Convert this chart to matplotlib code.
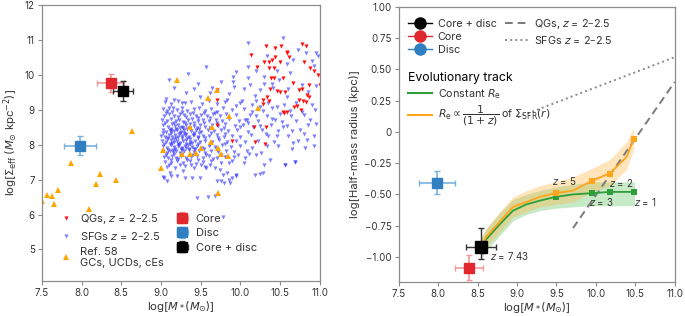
import numpy as np
import matplotlib
matplotlib.use('Agg')
import matplotlib.pyplot as plt
from matplotlib.lines import Line2D

plt.rcParams['font.family'] = ['Inter', 'DejaVu Sans']
plt.rcParams['mathtext.fontset'] = 'dejavusans'

# ---------------- left panel data ----------------
# QGs z = 2-2.5 (mass, sigma_eff)
qg_points = np.array([
    (10.32, 10.83), (10.44, 10.78), (10.51, 10.83), (10.78, 10.89), (10.82, 10.83),
    (10.13, 10.56), (10.59, 10.66), (10.61, 10.52), (10.43, 10.52), (10.40, 10.43),
    (10.30, 10.36), (10.36, 10.36), (10.50, 10.36), (10.80, 10.38), (10.21, 10.24),
    (10.36, 10.19), (10.42, 10.19), (10.88, 10.19), (10.93, 10.12), (10.39, 9.92),
    (10.42, 9.92), (10.54, 9.92), (10.66, 9.76), (10.86, 9.71), (10.46, 9.55),
    (10.50, 9.51), (10.56, 9.51), (10.74, 9.57), (10.78, 9.60), (10.37, 9.59),
    (10.34, 9.38), (10.84, 9.41), (10.86, 9.38), (10.29, 9.29), (10.74, 9.29),
    (10.79, 9.26), (10.82, 9.22), (10.71, 9.11), (10.68, 9.08), (10.76, 9.00),
    (10.53, 8.95), (10.55, 8.91), (10.59, 8.95), (10.17, 8.52), (10.32, 8.52),
    (10.97, 10.00), (9.71, 9.29), (9.90, 8.12), (10.18, 8.07), (10.31, 8.03),
    (10.36, 9.26), (10.29, 9.16), (9.71, 8.57), (9.71, 9.57), (10.58, 10.64),
    (11.00, 9.71),
])

# SFGs z = 2-2.5 (mass, sigma_eff)
sfg_points = np.array([
    # outer / upper cloud
    (9.57, 10.22), (9.34, 10.02), (9.10, 9.84), (9.47, 9.73), (9.41, 9.60),
    (9.17, 9.62), (9.94, 10.07), (9.91, 9.93), (9.64, 9.62), (9.31, 9.48),
    (9.62, 9.49), (9.49, 9.36), (9.06, 9.31), (9.16, 9.29), (9.83, 9.27),
    (9.95, 9.11), (9.10, 9.05), (9.26, 9.19), (10.09, 10.91), (10.53, 11.05),
    (10.95, 10.64), (10.83, 10.62), (10.10, 10.24), (10.33, 10.54), (10.46, 10.10),
    (10.92, 10.26), (10.95, 9.67), (10.77, 9.71), (10.66, 10.43), (9.91, 9.81),
    (10.12, 9.71), (10.25, 9.57), (10.41, 9.62), (10.58, 9.38), (10.94, 9.00),
    (10.93, 8.26), (10.64, 8.81), (10.46, 9.09), (10.25, 9.09), (9.99, 9.19),
    (10.06, 8.71), (10.20, 8.81), (10.54, 8.52), (10.75, 8.43), (10.46, 8.24),
    (10.66, 8.05), (10.92, 7.95), (10.18, 9.40), (10.05, 9.60), (10.48, 9.85),
    (10.62, 10.05), (10.70, 9.20), (10.85, 9.50), (10.30, 9.95), (9.85, 9.45),
    (9.75, 9.80), (10.58, 10.30), (10.90, 10.40), (10.97, 10.55), (10.20, 10.10),
    (10.72, 10.70), (10.40, 9.75), (10.88, 8.70), (10.78, 8.95), (10.15, 8.95),
    (10.00, 8.50), (10.10, 8.62), (10.25, 8.55), (10.32, 8.30), (10.52, 8.66),
    (10.65, 8.40), (10.80, 8.30), (10.95, 8.60), (10.40, 8.75), (10.20, 9.25),
    (10.55, 9.15), (10.90, 9.15), (10.60, 9.60), (10.30, 9.75), (10.10, 9.90),
    (9.92, 9.65),
    # lower right
    (10.84, 8.14), (10.81, 7.92), (10.65, 7.89), (10.47, 7.95), (10.69, 7.51),
    (10.56, 7.41), (10.37, 7.55), (10.30, 7.43), (10.24, 7.17), (10.18, 7.14),
    (9.94, 7.11), (10.04, 7.48), (10.11, 7.73), (10.19, 7.71), (10.06, 7.62),
    (9.97, 7.71), (10.29, 7.19), (10.56, 7.43), (10.69, 7.50),
    # lower left / outliers
    (9.45, 6.48), (9.59, 6.49), (9.68, 6.52), (9.76, 6.95), (9.87, 6.91),
    (9.95, 7.14), (9.78, 7.14), (9.03, 7.09), (9.07, 6.95), (9.04, 7.05),
    (9.13, 7.10), (9.20, 7.10), (9.30, 7.05), (9.39, 7.05), (9.49, 7.05),
    (9.74, 7.29), (9.83, 7.19), (9.79, 6.91), (9.86, 7.00), (9.89, 7.05),
    (9.70, 6.95), (9.57, 7.33), (9.86, 7.48), (9.28, 7.24), (9.11, 7.19),
    (9.78, 5.92),
    # dense core
    (9.05, 9.22), (9.12, 9.17), (9.22, 9.25), (9.30, 9.19), (9.38, 9.23),
    (9.52, 9.16), (9.60, 9.24), (9.71, 9.18), (9.80, 9.21), (10.02, 9.26),
    (10.15, 9.15), (10.35, 9.20),
    (9.02, 9.02), (9.08, 8.97), (9.15, 9.04), (9.20, 8.99), (9.27, 9.05),
    (9.33, 8.96), (9.41, 9.01), (9.48, 9.06), (9.55, 8.98), (9.63, 9.03),
    (9.70, 8.95), (9.78, 9.04), (9.90, 8.99), (10.05, 9.02), (10.28, 8.97),
    (10.40, 9.05), (10.62, 8.98),
    (9.04, 8.83), (9.10, 8.88), (9.17, 8.82), (9.24, 8.87), (9.29, 8.84),
    (9.36, 8.89), (9.44, 8.81), (9.50, 8.86), (9.58, 8.83), (9.66, 8.88),
    (9.74, 8.82), (9.82, 8.87), (9.95, 8.84), (10.12, 8.86), (10.33, 8.83),
    (10.50, 8.88), (10.80, 8.85),
    (9.01, 8.71), (9.07, 8.67), (9.13, 8.73), (9.19, 8.68), (9.23, 8.72),
    (9.28, 8.66), (9.34, 8.71), (9.39, 8.74), (9.46, 8.68), (9.53, 8.72),
    (9.61, 8.67), (9.69, 8.71), (9.77, 8.69), (9.86, 8.73), (9.98, 8.67),
    (10.08, 8.71), (10.22, 8.68), (10.44, 8.72), (10.70, 8.69),
    (9.03, 8.56), (9.09, 8.52), (9.14, 8.58), (9.18, 8.53), (9.22, 8.57),
    (9.27, 8.51), (9.31, 8.56), (9.36, 8.59), (9.42, 8.53), (9.49, 8.57),
    (9.56, 8.52), (9.64, 8.56), (9.72, 8.54), (9.81, 8.58), (9.93, 8.53),
    (10.03, 8.56), (10.16, 8.51), (10.38, 8.57), (10.58, 8.54), (10.85, 8.56),
    (9.02, 8.41), (9.06, 8.37), (9.11, 8.43), (9.16, 8.38), (9.20, 8.42),
    (9.25, 8.36), (9.29, 8.41), (9.33, 8.44), (9.38, 8.38), (9.44, 8.42),
    (9.51, 8.37), (9.59, 8.41), (9.67, 8.39), (9.75, 8.43), (9.84, 8.38),
    (9.96, 8.41), (10.10, 8.37), (10.27, 8.42), (10.47, 8.39),
    (9.00, 8.26), (9.05, 8.22), (9.10, 8.28), (9.14, 8.23), (9.18, 8.27),
    (9.22, 8.21), (9.26, 8.26), (9.30, 8.29), (9.35, 8.23), (9.40, 8.27),
    (9.46, 8.22), (9.53, 8.26), (9.61, 8.24), (9.70, 8.28), (9.79, 8.23),
    (9.90, 8.26), (10.00, 8.22), (10.13, 8.27), (10.35, 8.24), (10.60, 8.26),
    (9.01, 8.11), (9.06, 8.07), (9.12, 8.13), (9.16, 8.08), (9.20, 8.12),
    (9.24, 8.06), (9.28, 8.11), (9.32, 8.14), (9.37, 8.08), (9.43, 8.12),
    (9.49, 8.07), (9.56, 8.11), (9.64, 8.09), (9.73, 8.13), (9.83, 8.08),
    (9.94, 8.11), (10.06, 8.07), (10.22, 8.12), (10.42, 8.09), (10.72, 8.11),
    (9.03, 7.96), (9.08, 7.92), (9.13, 7.98), (9.17, 7.93), (9.21, 7.97),
    (9.26, 7.91), (9.30, 7.96), (9.34, 7.99), (9.39, 7.93), (9.45, 7.97),
    (9.52, 7.92), (9.60, 7.96), (9.68, 7.94), (9.77, 7.98), (9.88, 7.93),
    (10.00, 7.96), (10.15, 7.92), (10.33, 7.97),
    (9.02, 7.81), (9.07, 7.77), (9.11, 7.83), (9.15, 7.78), (9.19, 7.82),
    (9.24, 7.76), (9.29, 7.81), (9.35, 7.84), (9.41, 7.78), (9.48, 7.82),
    (9.55, 7.77), (9.63, 7.81), (9.72, 7.79), (9.82, 7.83), (9.92, 7.78),
    (10.08, 7.81), (10.26, 7.77),
    (9.04, 7.66), (9.09, 7.62), (9.14, 7.68), (9.19, 7.63), (9.25, 7.67),
    (9.31, 7.61), (9.38, 7.66), (9.45, 7.69), (9.53, 7.63), (9.61, 7.67),
    (9.70, 7.62), (9.80, 7.66), (9.92, 7.64),
    (9.05, 7.51), (9.12, 7.47), (9.20, 7.53), (9.28, 7.48), (9.36, 7.52),
    (9.44, 7.46), (9.53, 7.51), (9.63, 7.54), (9.75, 7.48), (9.90, 7.52),
    (9.08, 7.36), (9.18, 7.32), (9.30, 7.38), (9.42, 7.33), (9.55, 7.37),
    (9.68, 7.34),
    (9.19, 8.45), (9.23, 8.31), (9.27, 8.18), (9.31, 8.02), (9.35, 7.88),
    (9.21, 8.03), (9.25, 7.87), (9.29, 8.33), (9.33, 8.19), (9.37, 8.48),
    (9.41, 8.34), (9.17, 8.17), (9.13, 8.33), (9.39, 8.05), (9.43, 7.87),
    (9.47, 8.18), (9.15, 7.86), (9.11, 8.02), (9.45, 8.47), (9.09, 8.19),
    (9.06, 8.90), (9.14, 8.93), (9.21, 8.78), (9.26, 8.94), (9.32, 8.78),
    (9.40, 8.92), (9.47, 8.76), (9.54, 8.91), (9.62, 8.77), (9.68, 8.92),
    (9.05, 8.62), (9.12, 8.46), (9.17, 8.63), (9.24, 8.48), (9.30, 8.62),
    (9.35, 8.47), (9.41, 8.63), (9.48, 8.46), (9.54, 8.62), (9.62, 8.47),
    (9.70, 8.62), (9.79, 8.47),
    (9.03, 8.33), (9.08, 8.16), (9.13, 8.40), (9.19, 8.18), (9.24, 8.34),
    (9.28, 8.47), (9.32, 8.31), (9.36, 8.16), (9.42, 8.29), (9.48, 8.33),
    (9.55, 8.18), (9.63, 8.33), (9.72, 8.18), (9.81, 8.32),
    (9.04, 8.02), (9.09, 7.86), (9.14, 8.04), (9.18, 7.89), (9.23, 8.00),
    (9.27, 7.84), (9.32, 7.91), (9.36, 8.02), (9.41, 7.88), (9.47, 8.02),
    (9.54, 7.87), (9.62, 8.03), (9.70, 7.87), (9.80, 8.02),
    (9.06, 7.72), (9.12, 7.57), (9.17, 7.73), (9.22, 7.58), (9.27, 7.73),
    (9.33, 7.57), (9.40, 7.72), (9.47, 7.57), (9.57, 7.72), (9.66, 7.58),
    (9.76, 7.72),
    (9.10, 7.42), (9.24, 7.43), (9.38, 7.42), (9.50, 7.43), (9.62, 7.42),
])

# Ref. 58: GCs, UCDs, cEs
ref_mass = [9.20, 8.63, 9.70, 9.59, 10.22, 9.86, 9.36, 9.64, 9.63, 9.50, 9.72,
            9.02, 9.27, 9.36, 9.44, 9.75, 9.84, 9.00, 9.72, 7.87, 8.23, 8.18,
            8.43, 7.70, 7.57, 7.63, 7.66, 7.50, 8.09]
ref_sigma = [9.84, 8.40, 9.57, 9.33, 9.05, 8.83, 8.50, 8.50, 8.07, 7.92, 7.90,
             7.84, 7.73, 7.73, 7.76, 7.74, 7.69, 7.33, 6.62, 7.48, 7.16, 6.87,
             7.00, 6.71, 6.55, 6.52, 6.31, 6.40, 6.16]

# this work, left panel: (mass, sigma, xerr, yerr)
left_core = (8.37, 9.77, 0.17, 0.25)
left_disc = (7.98, 7.97, 0.20, 0.27)
left_total = (8.52, 9.54, 0.125, 0.28)

# ---------------- right panel data ----------------
right_disc = (7.99, -0.405, 0.23, 0.09)
right_core = (8.39, -1.085, 0.18, 0.10)
right_total = (8.54, -0.92, 0.19, (0.10, 0.15))

green_mass = [8.54, 8.61, 8.78, 8.95, 9.12, 9.29, 9.49, 9.71, 9.955, 10.18, 10.49]
green_r = [-0.92, -0.86, -0.74, -0.63, -0.58, -0.55, -0.52, -0.50, -0.49, -0.48, -0.48]
green_lo = [-1.02, -0.95, -0.83, -0.71, -0.66, -0.63, -0.61, -0.60, -0.59, -0.59, -0.59]
green_hi = [-0.85, -0.78, -0.65, -0.54, -0.50, -0.47, -0.44, -0.42, -0.40, -0.40, -0.40]
green_mark_mass = [9.49, 9.955, 10.18, 10.49]
green_mark_r = [-0.52, -0.49, -0.48, -0.48]

orange_mass = [8.54, 8.61, 8.78, 8.95, 9.12, 9.29, 9.49, 9.71, 9.955, 10.18, 10.39, 10.48]
orange_r = [-0.92, -0.84, -0.72, -0.60, -0.56, -0.52, -0.49, -0.47, -0.39, -0.33, -0.20, -0.056]
orange_lo = [-0.99, -0.92, -0.80, -0.68, -0.64, -0.60, -0.58, -0.56, -0.48, -0.43, -0.30, -0.14]
orange_hi = [-0.85, -0.77, -0.64, -0.52, -0.47, -0.43, -0.40, -0.36, -0.29, -0.22, -0.08, 0.04]
orange_mark_mass = [9.49, 9.955, 10.18, 10.48]
orange_mark_r = [-0.49, -0.39, -0.336, -0.056]

qg_line_mass = [9.71, 11.0]
qg_line_r = [-0.77, 0.40]
sfg_line_mass = [9.01, 11.0]
sfg_line_r = [0.118, 0.598]

z_labels = ['z = 5', 'z = 2', 'z = 3', 'z = 1', 'z = 7.43']
z_mass = [9.60, 10.32, 10.07, 10.62, 8.91]
z_r = [-0.39, -0.41, -0.56, -0.56, -0.99]

mass_ticks = [7.5, 8.0, 8.5, 9.0, 9.5, 10.0, 10.5, 11.0]
radius_ticks = [1.0, 0.75, 0.5, 0.25, 0.0, -0.25, -0.5, -0.75, -1.0]
radius_ticklabels = ['1.00', '0.75', '0.50', '0.25', '0', '\u22120.25', '\u22120.50',
                     '\u22120.75', '\u22121.00']

RED = '#e0282e'
BLUE = '#2f7fc1'
GREEN = '#2e9e3a'
ORANGE = '#ffa41b'
SPINE = '#8c8c8c'
TXT = '#333333'

fig = plt.figure(figsize=(6.85, 3.16), dpi=100)
ax1 = fig.add_axes([0.061, 0.111, 0.406, 0.873])
ax2 = fig.add_axes([0.582, 0.108, 0.403, 0.870])

for ax in (ax1, ax2):
    for s in ax.spines.values():
        s.set_color(SPINE)
        s.set_linewidth(0.9)
    ax.tick_params(direction='out', length=3, width=0.8, color=SPINE,
                   labelsize=7, labelcolor=TXT, pad=2)
    ax.set_xlim(7.5, 11.0)
    ax.set_xticks(mass_ticks)
    ax.set_xticklabels([f'{t:.1f}' for t in mass_ticks])
    ax.set_xlabel(r'log[$M_*$($M_{\odot}$)]', fontsize=8.2, color=TXT, labelpad=1)

# ---------------- left panel ----------------
ax1.set_ylim(4.1, 12)
ax1.set_yticks([5, 6, 7, 8, 9, 10, 11, 12])
ax1.set_ylabel(r'log[$\Sigma_{\rm eff}$ ($M_{\odot}$ kpc$^{-2}$)]', fontsize=8.2,
               color=TXT, labelpad=3)

h_sfg, = ax1.plot(sfg_points[:, 0], sfg_points[:, 1], 'v', color='#3030ff', ms=3,
                  mew=0, alpha=0.62, linestyle='none', label='SFGs $z$ = 2\u20132.5')
h_qg, = ax1.plot(qg_points[:, 0], qg_points[:, 1], 'v', color='#ff1010', ms=3,
                 mew=0, linestyle='none', label='QGs, $z$ = 2\u20132.5')
h_ref, = ax1.plot(ref_mass, ref_sigma, '^', color='#ffa500', ms=4, mew=0,
                  linestyle='none', label='Ref. 58\nGCs, UCDs, cEs')

h_lcore = ax1.errorbar(left_core[0], left_core[1], xerr=left_core[2], yerr=left_core[3],
                       fmt='s', color=RED, ms=7, ecolor='#f09a9c', elinewidth=1.2,
                       capsize=2, label='Core')
h_ldisc = ax1.errorbar(left_disc[0], left_disc[1], xerr=left_disc[2], yerr=left_disc[3],
                       fmt='s', color=BLUE, ms=7, ecolor='#7ab3e0', elinewidth=1.2,
                       capsize=2, label='Disc')
h_ltot = ax1.errorbar(left_total[0], left_total[1], xerr=left_total[2], yerr=left_total[3],
                      fmt='s', color='black', ms=7, ecolor='#333333', elinewidth=1.0,
                      capsize=2, label='Core + disc')

ax1.legend(handles=[h_qg, h_sfg, h_ref, h_lcore, h_ldisc, h_ltot], ncol=2,
           loc='lower left', bbox_to_anchor=(0.02, 0.01), frameon=False, fontsize=8,
           handlelength=1.6, handletextpad=0.4, columnspacing=0.9, labelspacing=0.4,
           labelcolor=TXT, markerscale=1.0)

# ---------------- right panel ----------------
ax2.set_ylim(-1.2, 1.0)
ax2.set_yticks(radius_ticks)
ax2.set_yticklabels(radius_ticklabels)
ax2.set_ylabel('log[Half-mass radius (kpc)]', fontsize=8.2, color=TXT, labelpad=3)

ax2.plot(sfg_line_mass, sfg_line_r, ':', color='#8a8a8a', lw=1.4)
ax2.fill_between(green_mass, green_lo, green_hi, color='#5cc15c', alpha=0.35, lw=0)
ax2.fill_between(orange_mass, orange_lo, orange_hi, color='#ffb340', alpha=0.35, lw=0)
ax2.plot(qg_line_mass, qg_line_r, '--', color='#7a7a7a', lw=1.4, dashes=(4, 2.5))
ax2.plot(green_mass, green_r, '-', color=GREEN, lw=1.3)
ax2.plot(orange_mass, orange_r, '-', color=ORANGE, lw=1.3)
ax2.plot(green_mark_mass, green_mark_r, 's', color=GREEN, ms=4.5, mew=0)
ax2.plot(orange_mark_mass, orange_mark_r, 's', color=ORANGE, ms=4.5, mew=0)

ax2.errorbar(right_disc[0], right_disc[1], xerr=right_disc[2], yerr=right_disc[3],
             fmt='s', color=BLUE, ms=6.5, ecolor='#7ab3e0', elinewidth=1.2, capsize=2)
ax2.errorbar(right_core[0], right_core[1], xerr=right_core[2], yerr=right_core[3],
             fmt='s', color=RED, ms=6.5, ecolor='#f09a9c', elinewidth=1.2, capsize=2)
ax2.errorbar(right_total[0], right_total[1], xerr=right_total[2],
             yerr=[[right_total[3][0]], [right_total[3][1]]],
             fmt='s', color='black', ms=8, ecolor='#333333', elinewidth=1.0, capsize=2,
             zorder=5)

for lab, xm, yr in zip(z_labels, z_mass, z_r):
    ax2.text(xm, yr, lab.replace('z', '$z$'), fontsize=7, color=TXT,
             ha='center', va='center')

leg_a = ax2.legend(handles=[
    Line2D([], [], color='black', marker='o', ms=8, lw=1),
    Line2D([], [], color=RED, marker='o', ms=8, lw=1, markeredgecolor=RED),
    Line2D([], [], color=BLUE, marker='o', ms=8, lw=1),
    Line2D([], [], color='#7a7a7a', lw=1.4, ls='--', dashes=(4, 2.5)),
    Line2D([], [], color='#8a8a8a', lw=1.4, ls=':'),
], labels=['Core + disc', 'Core', 'Disc', 'QGs, $z$ = 2\u20132.5', 'SFGs $z$ = 2\u20132.5'],
    ncol=2, loc='upper left', bbox_to_anchor=(0.0, 1.0), frameon=False, fontsize=7.8,
    handlelength=2.2, handletextpad=0.5, columnspacing=0.8, labelspacing=0.3,
    labelcolor=TXT)
ax2.add_artist(leg_a)

ax2.legend(handles=[Line2D([], [], color=GREEN, lw=1.5),
                    Line2D([], [], color=ORANGE, lw=1.5)],
           labels=[r'Constant $R_{\rm e}$',
                   r'$R_{\rm e} \propto \dfrac{1}{(1+z)}$ of $\Sigma_{\rm SFR}(r)$'],
           title='Evolutionary track', title_fontsize=8.8, alignment='left',
           loc='upper left', bbox_to_anchor=(0.0, 0.80), frameon=False, fontsize=7.8,
           handlelength=2.2, handletextpad=0.5, labelspacing=0.3, labelcolor=TXT)

fig.savefig('out.png', dpi=100)
